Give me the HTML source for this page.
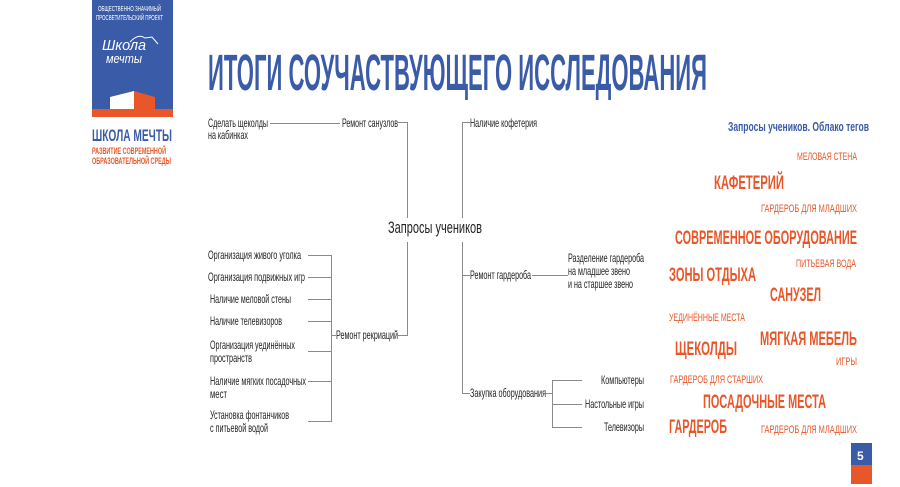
<!DOCTYPE html>
<html><head><meta charset="utf-8"><style>
html,body{margin:0;padding:0;background:#fff;}
svg{display:block;}
text{font-family:"Liberation Sans Narrow","Liberation Sans",sans-serif;}
.d{font-size:12px;fill:#222;}
.o{fill:#e8572a;font-weight:bold;}
.s{font-size:11px;font-weight:normal;}
.b{font-size:19px;}
</style></head><body>
<svg width="900" height="487" viewBox="0 0 900 487" xmlns="http://www.w3.org/2000/svg">
<rect width="900" height="487" fill="#fff"/>
<!-- logo -->
<rect x="92" y="0" width="81" height="110" fill="#3a5ba8"/>
<rect x="92" y="109" width="81" height="8" fill="#e8572a"/>
<polygon points="110,97 134,91 134,109 110,109" fill="#fff"/>
<polygon points="134,91 155,97 155,109 134,109" fill="#e8572a"/>
<text x="98" y="11" font-size="7" fill="#fff" textLength="63" lengthAdjust="spacingAndGlyphs">ОБЩЕСТВЕННО ЗНАЧИМЫЙ</text>
<text x="96" y="20" font-size="7" fill="#fff" textLength="67" lengthAdjust="spacingAndGlyphs">ПРОСВЕТИТЕЛЬСКИЙ ПРОЕКТ</text>
<path d="M130 42 Q138 33 145 38 L152 37 L158 44" stroke="#fff" fill="none" stroke-width="1"/>
<text x="102" y="50" font-size="15" font-style="italic" fill="#fff" textLength="44" lengthAdjust="spacingAndGlyphs" font-family="Liberation Serif">Школа</text>
<text x="106" y="63" font-size="13" font-style="italic" fill="#fff" textLength="36" lengthAdjust="spacingAndGlyphs" font-family="Liberation Serif">мечты</text>
<text x="92" y="141" font-size="17" font-weight="bold" fill="#3a5ba8" textLength="80" lengthAdjust="spacingAndGlyphs">ШКОЛА МЕЧТЫ</text>
<text x="92" y="154" font-size="9" font-weight="bold" fill="#e8572a" textLength="74" lengthAdjust="spacingAndGlyphs">РАЗВИТИЕ СОВРЕМЕННОЙ</text>
<text x="92" y="164" font-size="9" font-weight="bold" fill="#e8572a" textLength="79" lengthAdjust="spacingAndGlyphs">ОБРАЗОВАТЕЛЬНОЙ СРЕДЫ</text>
<!-- title -->
<text x="208" y="90" font-size="51" font-weight="bold" fill="#3a5ba8" textLength="499" lengthAdjust="spacingAndGlyphs">ИТОГИ СОУЧАСТВУЮЩЕГО ИССЛЕДОВАНИЯ</text>
<!-- lines -->
<g stroke="#8a8a8a" stroke-width="1" fill="none">
<path d="M270 123.5H340 M398 122.5H407.5V218 M407.5 242V335.5H398"/>
<path d="M470 122.5H462.5V218 M462.5 242V393.5H470 M462.5 275.5H470 M532 275.5H568"/>
<path d="M308 255.5H331.5V421.5H308 M308 277.5H331 M308 299.5H331 M308 321.5H331 M308 351.5H331 M308 381.5H331 M331 335.5H336"/>
<path d="M546 393.5H552.5 M582 380.5H552.5V427.5H582 M552 404.5H582"/>
</g>
<g class="d">
<text x="208" y="127" textLength="60" lengthAdjust="spacingAndGlyphs">Сделать щеколды</text>
<text x="208" y="139" textLength="40" lengthAdjust="spacingAndGlyphs">на кабинках</text>
<text x="342" y="127" textLength="56" lengthAdjust="spacingAndGlyphs">Ремонт санузлов</text>
<text x="470" y="127" textLength="67" lengthAdjust="spacingAndGlyphs">Наличие кофетерия</text>
<text x="388" y="233" font-size="17" textLength="94" lengthAdjust="spacingAndGlyphs">Запросы учеников</text>
<text x="336" y="339" textLength="62" lengthAdjust="spacingAndGlyphs">Ремонт рекриаций</text>
<text x="208" y="259" textLength="93" lengthAdjust="spacingAndGlyphs">Организация живого уголка</text>
<text x="208" y="281" textLength="97" lengthAdjust="spacingAndGlyphs">Организация подвижных игр</text>
<text x="210" y="303" textLength="81" lengthAdjust="spacingAndGlyphs">Наличие меловой стены</text>
<text x="210" y="325" textLength="72" lengthAdjust="spacingAndGlyphs">Наличие телевизоров</text>
<text x="210" y="349" textLength="85" lengthAdjust="spacingAndGlyphs">Организация уединённых</text>
<text x="210" y="362" textLength="42" lengthAdjust="spacingAndGlyphs">пространств</text>
<text x="210" y="385" textLength="96" lengthAdjust="spacingAndGlyphs">Наличие мягких посадочных</text>
<text x="210" y="398" textLength="17" lengthAdjust="spacingAndGlyphs">мест</text>
<text x="210" y="419" textLength="79" lengthAdjust="spacingAndGlyphs">Установка фонтанчиков</text>
<text x="210" y="432" textLength="58" lengthAdjust="spacingAndGlyphs">с питьевой водой</text>
<text x="470" y="279" textLength="61" lengthAdjust="spacingAndGlyphs">Ремонт гардероба</text>
<text x="568" y="262" textLength="76" lengthAdjust="spacingAndGlyphs">Разделение гардероба</text>
<text x="568" y="275" textLength="62" lengthAdjust="spacingAndGlyphs">на младшее звено</text>
<text x="568" y="288" textLength="65" lengthAdjust="spacingAndGlyphs">и на старшее звено</text>
<text x="470" y="397" textLength="76" lengthAdjust="spacingAndGlyphs">Закупка оборудования</text>
<text x="601" y="384" textLength="43" lengthAdjust="spacingAndGlyphs">Компьютеры</text>
<text x="585" y="408" textLength="59" lengthAdjust="spacingAndGlyphs">Настольные игры</text>
<text x="604" y="431" textLength="40" lengthAdjust="spacingAndGlyphs">Телевизоры</text>
</g>
<!-- cloud -->
<text x="728" y="131" font-size="13" font-weight="bold" fill="#3a5ba8" textLength="141" lengthAdjust="spacingAndGlyphs">Запросы учеников. Облако тегов</text>
<g class="o">
<text class="s" x="797" y="160" textLength="60" lengthAdjust="spacingAndGlyphs">МЕЛОВАЯ СТЕНА</text>
<text class="b" x="714" y="189" textLength="70" lengthAdjust="spacingAndGlyphs">КАФЕТЕРИЙ</text>
<text class="s" x="761" y="212" textLength="96" lengthAdjust="spacingAndGlyphs">ГАРДЕРОБ ДЛЯ МЛАДШИХ</text>
<text class="b" x="675" y="244" textLength="182" lengthAdjust="spacingAndGlyphs">СОВРЕМЕННОЕ ОБОРУДОВАНИЕ</text>
<text class="s" x="796" y="267" textLength="60" lengthAdjust="spacingAndGlyphs">ПИТЬЕВАЯ ВОДА</text>
<text class="b" x="669" y="281" textLength="87" lengthAdjust="spacingAndGlyphs">ЗОНЫ ОТДЫХА</text>
<text class="b" x="770" y="301" textLength="51" lengthAdjust="spacingAndGlyphs">САНУЗЕЛ</text>
<text class="s" x="669" y="321" textLength="76" lengthAdjust="spacingAndGlyphs">УЕДИНЁННЫЕ МЕСТА</text>
<text class="b" x="760" y="345" textLength="97" lengthAdjust="spacingAndGlyphs">МЯГКАЯ МЕБЕЛЬ</text>
<text class="b" x="675" y="355" textLength="62" lengthAdjust="spacingAndGlyphs">ЩЕКОЛДЫ</text>
<text class="s" x="836" y="365" textLength="21" lengthAdjust="spacingAndGlyphs">ИГРЫ</text>
<text class="s" x="670" y="383" textLength="93" lengthAdjust="spacingAndGlyphs">ГАРДЕРОБ ДЛЯ СТАРШИХ</text>
<text class="b" x="703" y="408" textLength="123" lengthAdjust="spacingAndGlyphs">ПОСАДОЧНЫЕ МЕСТА</text>
<text class="b" x="669" y="433" textLength="58" lengthAdjust="spacingAndGlyphs">ГАРДЕРОБ</text>
<text class="s" x="761" y="433" textLength="96" lengthAdjust="spacingAndGlyphs">ГАРДЕРОБ ДЛЯ МЛАДШИХ</text>
</g>
<rect x="851" y="443" width="21" height="23" fill="#3a5ba8"/>
<rect x="851" y="465" width="21" height="19" fill="#e8572a"/>
<text x="857" y="460" font-size="12" font-weight="bold" fill="#fff">5</text>
</svg>
</body></html>
